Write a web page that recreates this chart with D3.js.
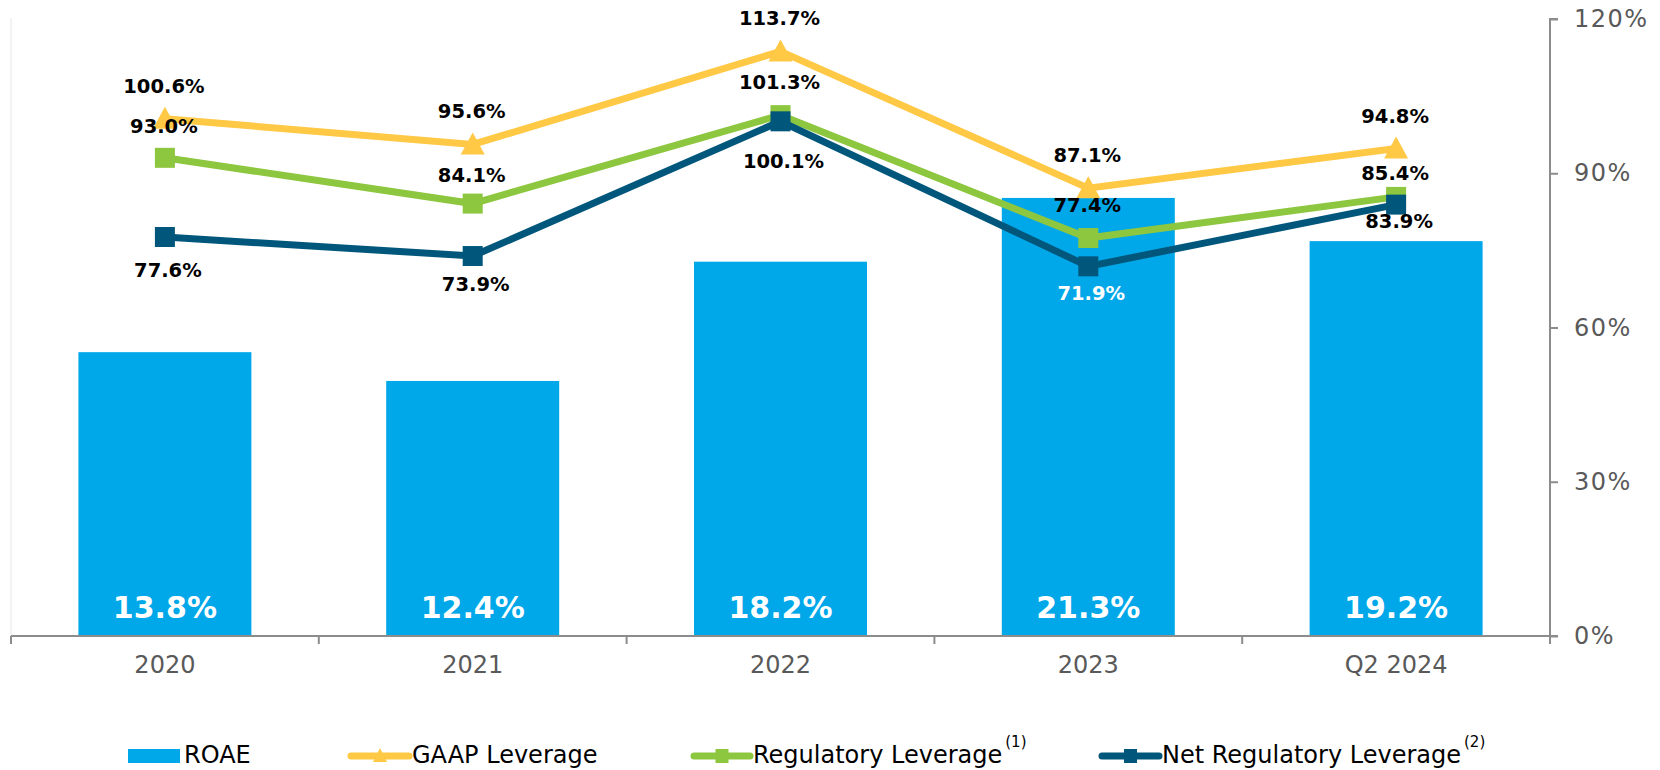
<!DOCTYPE html>
<html>
<head>
<meta charset="utf-8">
<script src="https://cdn.jsdelivr.net/npm/d3@7"></script>
<style>
  body { margin: 0; background: #fff; }
  svg { display: block; font-family: "DejaVu Sans", Verdana, sans-serif; }
</style>
</head>
<body>
<svg id="chart" width="1660" height="770"></svg>
<script>
// Data
var categories = ["2020", "2021", "2022", "2023", "Q2 2024"];
var roae = [13.8, 12.4, 18.2, 21.3, 19.2];
var gaapLeverage = [100.6, 95.6, 113.7, 87.1, 94.8];
var regLeverage = [93.0, 84.1, 101.3, 77.4, 85.4];
var netRegLeverage = [77.6, 73.9, 100.1, 71.9, 83.9];
var rightTicks = [0, 30, 60, 90, 120];

// Colours
var cBar = "#00A7E9", cGaap = "#FFC845", cReg = "#8DC63F", cNet = "#00577B";

var svg = d3.select("#chart");

// Scales
var x = d3.scaleBand().domain(categories).range([11, 1550])
    .paddingInner(0.438).paddingOuter(0.219);
var yLeft = d3.scaleLinear().domain([0, 30]).range([636, 19]);   // hidden axis for ROAE
var yRight = d3.scaleLinear().domain([0, 120]).range([636, 19]);
var cx = function(i){ return x(categories[i]) + x.bandwidth() / 2; };

// faint left axis line
svg.append("line")
    .attr("x1", 11).attr("x2", 11).attr("y1", 18).attr("y2", 636)
    .attr("stroke", "#e6e6e6").attr("stroke-width", 1);

// Bars
svg.append("g").selectAll("rect").data(roae).enter().append("rect")
    .attr("x", function(d, i){ return x(categories[i]); })
    .attr("y", function(d){ return yLeft(d); })
    .attr("width", x.bandwidth())
    .attr("height", function(d){ return yLeft(0) - yLeft(d); })
    .attr("fill", cBar);

svg.append("g").selectAll("text").data(roae).enter().append("text")
    .attr("x", function(d, i){ return cx(i); })
    .attr("y", yLeft(0) - 18)
    .attr("text-anchor", "middle")
    .attr("font-size", 30).attr("font-weight", "bold")
    .attr("fill", "#fff")
    .text(function(d){ return d.toFixed(1) + "%"; });

// X axis
var xAxis = svg.append("g").attr("transform", "translate(0,636)");
xAxis.append("line").attr("x1", 11).attr("x2", 1550)
    .attr("stroke", "#8c8c8c").attr("stroke-width", 2);
var bounds = categories.map(function(c){ return x(c) - x.step() * x.paddingInner() / 2; });
bounds[0] = 11; bounds.push(1550);
xAxis.selectAll(".tk").data(bounds).enter().append("line")
    .attr("x1", function(d){ return d; }).attr("x2", function(d){ return d; })
    .attr("y1", 0).attr("y2", 8)
    .attr("stroke", "#8c8c8c").attr("stroke-width", 2);
xAxis.selectAll(".lb").data(categories).enter().append("text")
    .attr("x", function(d, i){ return cx(i); })
    .attr("y", 37)
    .attr("text-anchor", "middle")
    .attr("font-size", 24).attr("fill", "#595959")
    .text(function(d){ return d; });

// Right axis
var rAxis = svg.append("g").attr("transform", "translate(1550,0)")
    .call(d3.axisRight(yRight).tickValues(rightTicks).tickSize(8).tickPadding(16)
          .tickFormat(function(d){ return d + "%"; }));
rAxis.select(".domain").attr("stroke", "#8c8c8c").attr("stroke-width", 2)
    .attr("d", "M8," + yRight(120) + "H0V" + yRight(0) + "H8");
rAxis.selectAll(".tick line").attr("stroke", "#8c8c8c").attr("stroke-width", 2);
rAxis.selectAll(".tick text").attr("font-size", 24).attr("fill", "#595959")
    .attr("letter-spacing", 1.5)
    .attr("font-family", "DejaVu Sans, Verdana, sans-serif");

// Lines
var triPath = "M0,-12L12,10L-12,10Z";
var series = [
    {vals: gaapLeverage, color: cGaap, marker: "tri", dy: [-26, -26, -26, -26, -26], dx: -1, fill: "#000"},
    {vals: regLeverage, color: cReg, marker: "sq", dy: [-25, -22, -26, -26, -17], dx: -1, fill: "#000"},
    {vals: netRegLeverage, color: cNet, marker: "sq", dy: [40, 35, 47, 34, 23], dx: 3,
     fill: ["#000", "#000", "#000", "#fff", "#000"]}
];
var line = d3.line().x(function(d, i){ return cx(i); }).y(function(d){ return yRight(d); });

series.forEach(function(s){
    var g = svg.append("g");
    g.append("path").datum(s.vals).attr("d", line)
        .attr("fill", "none").attr("stroke", s.color).attr("stroke-width", 7)
        .attr("stroke-linejoin", "miter");
    g.selectAll(".m").data(s.vals).enter().append("path")
        .attr("transform", function(d, i){ return "translate(" + cx(i) + "," + yRight(d) + ")"; })
        .attr("d", s.marker == "tri" ? triPath : "M-10,-10H10V10H-10Z")
        .attr("fill", s.color);
});

// Labels on top
series.forEach(function(s){
    svg.append("g").selectAll("text").data(s.vals).enter().append("text")
        .attr("x", function(d, i){ return cx(i) + s.dx; })
        .attr("y", function(d, i){ return yRight(d) + s.dy[i]; })
        .attr("text-anchor", "middle")
        .attr("font-size", 19.5).attr("font-weight", "bold")
        .attr("fill", function(d, i){ return Array.isArray(s.fill) ? s.fill[i] : s.fill; })
        .text(function(d){ return d.toFixed(1) + "%"; });
});

// Legend
var legend = svg.append("g");
var ly = 756;
legend.append("rect").attr("x", 128).attr("y", 749).attr("width", 52).attr("height", 14).attr("fill", cBar);
legend.append("text").attr("x", 184).attr("y", 763).attr("font-size", 24).text("ROAE");

var legItems = [
    {x1: 351, x2: 409, color: cGaap, marker: "tri", label: "GAAP Leverage", sup: ""},
    {x1: 694, x2: 750, color: cReg, marker: "sq", label: "Regulatory Leverage", sup: "(1)"},
    {x1: 1102, x2: 1159, color: cNet, marker: "sq", label: "Net Regulatory Leverage", sup: "(2)"}
];
legItems.forEach(function(it){
    legend.append("line").attr("x1", it.x1).attr("x2", it.x2).attr("y1", ly).attr("y2", ly)
        .attr("stroke", it.color).attr("stroke-width", 7).attr("stroke-linecap", "round");
    var m = (it.x1 + it.x2) / 2;
    legend.append("path")
        .attr("transform", "translate(" + m + "," + ly + ")")
        .attr("d", it.marker == "tri" ? "M0,-8L7,6L-7,6Z" : "M-6.5,-7H6.5V7H-6.5Z")
        .attr("fill", it.color);
    var t = legend.append("text").attr("x", it.x2 + 3).attr("y", 763).attr("font-size", 24).text(it.label);
    if (it.sup) {
        t.append("tspan").attr("dx", 3).attr("dy", -16).attr("font-size", 15).text(it.sup);
    }
});
</script>
</body>
</html>
